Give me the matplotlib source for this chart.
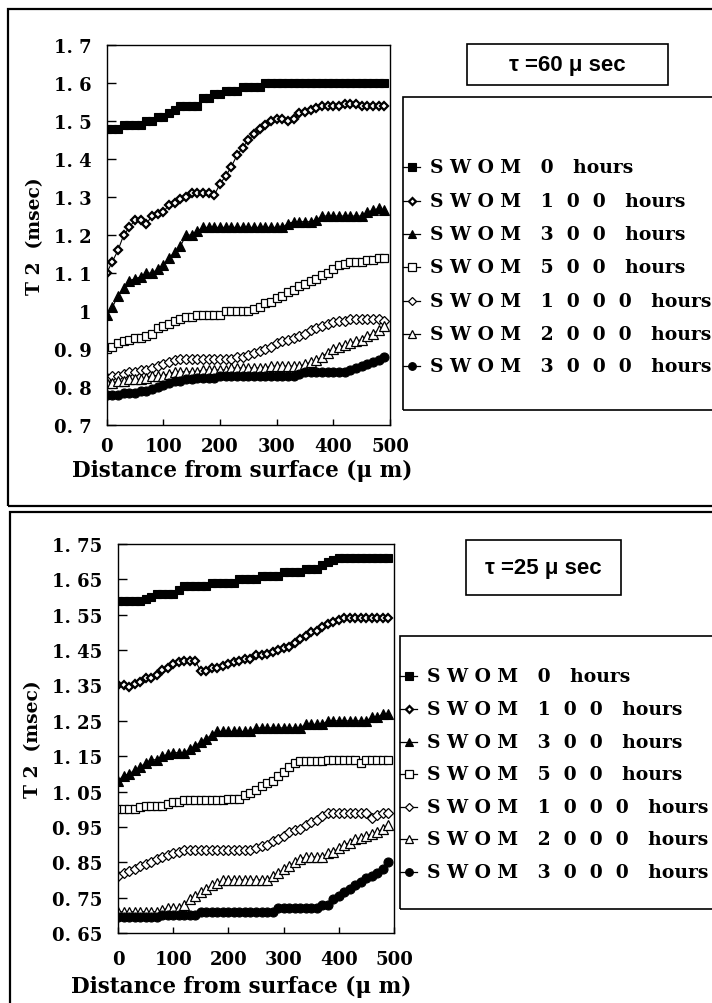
import matplotlib
matplotlib.use("Agg")
import matplotlib.pyplot as plt
from matplotlib.patches import Rectangle
from matplotlib.lines import Line2D

W, H = 712, 1004
SERIF = "DejaVu Serif"
plt.rcParams.update({"font.family": SERIF, "font.weight": "bold",
                     "axes.linewidth": 1.0})

DIST = list(range(0, 500, 10))
LABELS = ["S W O M   0   hours", "S W O M   1  0  0   hours",
          "S W O M   3  0  0   hours", "S W O M   5  0  0   hours",
          "S W O M   1  0  0  0   hours", "S W O M   2  0  0  0   hours",
          "S W O M   3  0  0  0   hours"]

# tau = 60 us
T60_0H = [1.48, 1.48, 1.48, 1.49, 1.49, 1.49, 1.49, 1.50, 1.50, 1.51,
          1.51, 1.52, 1.53, 1.54, 1.54, 1.54, 1.54, 1.56, 1.56, 1.57,
          1.57, 1.58, 1.58, 1.58, 1.59, 1.59, 1.59, 1.59, 1.60, 1.60,
          1.60, 1.60, 1.60, 1.60, 1.60, 1.60, 1.60, 1.60, 1.60, 1.60,
          1.60, 1.60, 1.60, 1.60, 1.60, 1.60, 1.60, 1.60, 1.60, 1.60]
T60_100H = [1.10, 1.13, 1.16, 1.20, 1.22, 1.24, 1.24, 1.23, 1.25, 1.255,
            1.26, 1.28, 1.285, 1.295, 1.30, 1.31, 1.31, 1.31, 1.31, 1.305,
            1.335, 1.355, 1.38, 1.41, 1.43, 1.45, 1.465, 1.48, 1.49, 1.50,
            1.505, 1.505, 1.50, 1.505, 1.52, 1.525, 1.53, 1.535, 1.54, 1.54,
            1.54, 1.54, 1.545, 1.545, 1.545, 1.54, 1.54, 1.54, 1.54, 1.54]
T60_300H = [0.99, 1.01, 1.04, 1.06, 1.08, 1.085, 1.09, 1.10, 1.10, 1.11,
            1.12, 1.14, 1.155, 1.17, 1.20, 1.20, 1.21, 1.22, 1.22, 1.22,
            1.22, 1.22, 1.22, 1.22, 1.22, 1.22, 1.22, 1.22, 1.22, 1.22,
            1.22, 1.22, 1.23, 1.235, 1.235, 1.235, 1.235, 1.24, 1.25, 1.25,
            1.25, 1.25, 1.25, 1.25, 1.25, 1.25, 1.26, 1.265, 1.27, 1.265]
T60_500H = [0.90, 0.905, 0.915, 0.92, 0.925, 0.93, 0.93, 0.935, 0.94, 0.955,
            0.96, 0.965, 0.975, 0.98, 0.985, 0.985, 0.99, 0.99, 0.99, 0.99,
            0.99, 1.00, 1.00, 1.00, 1.00, 1.00, 1.005, 1.01, 1.02, 1.025,
            1.035, 1.04, 1.05, 1.055, 1.065, 1.07, 1.08, 1.085, 1.095, 1.10,
            1.11, 1.12, 1.125, 1.13, 1.13, 1.13, 1.135, 1.135, 1.14, 1.14]
T60_1000H = [0.825, 0.83, 0.83, 0.835, 0.84, 0.84, 0.845, 0.845, 0.85, 0.855,
             0.86, 0.865, 0.87, 0.875, 0.875, 0.875, 0.875, 0.875, 0.875, 0.875,
             0.875, 0.875, 0.875, 0.88, 0.88, 0.885, 0.89, 0.895, 0.90, 0.905,
             0.915, 0.92, 0.925, 0.93, 0.935, 0.94, 0.95, 0.955, 0.96, 0.965,
             0.97, 0.975, 0.975, 0.98, 0.98, 0.98, 0.98, 0.98, 0.98, 0.975]
T60_2000H = [0.81, 0.81, 0.815, 0.815, 0.82, 0.82, 0.82, 0.825, 0.83, 0.83,
             0.83, 0.835, 0.84, 0.84, 0.84, 0.84, 0.84, 0.845, 0.845, 0.845,
             0.845, 0.845, 0.85, 0.85, 0.85, 0.85, 0.85, 0.85, 0.85, 0.855,
             0.855, 0.855, 0.855, 0.855, 0.855, 0.86, 0.865, 0.87, 0.88, 0.89,
             0.90, 0.905, 0.91, 0.915, 0.92, 0.925, 0.935, 0.94, 0.95, 0.96]
T60_3000H = [0.78, 0.78, 0.78, 0.785, 0.785, 0.785, 0.79, 0.79, 0.795, 0.80,
             0.805, 0.81, 0.815, 0.815, 0.82, 0.82, 0.825, 0.825, 0.825, 0.825,
             0.83, 0.83, 0.83, 0.83, 0.83, 0.83, 0.83, 0.83, 0.83, 0.83,
             0.83, 0.83, 0.83, 0.83, 0.835, 0.84, 0.84, 0.84, 0.84, 0.84,
             0.84, 0.84, 0.84, 0.845, 0.85, 0.855, 0.86, 0.865, 0.87, 0.88]

# tau = 25 us
T25_0H = [1.59, 1.59, 1.59, 1.59, 1.59, 1.595, 1.60, 1.61, 1.61, 1.61,
          1.61, 1.62, 1.63, 1.63, 1.63, 1.63, 1.63, 1.64, 1.64, 1.64,
          1.64, 1.64, 1.65, 1.65, 1.65, 1.65, 1.66, 1.66, 1.66, 1.66,
          1.67, 1.67, 1.67, 1.67, 1.68, 1.68, 1.68, 1.69, 1.70, 1.705,
          1.71, 1.71, 1.71, 1.71, 1.71, 1.71, 1.71, 1.71, 1.71, 1.71]
T25_100H = [1.35, 1.35, 1.345, 1.355, 1.36, 1.37, 1.37, 1.38, 1.395, 1.40,
            1.41, 1.415, 1.42, 1.42, 1.42, 1.39, 1.39, 1.40, 1.40, 1.405,
            1.41, 1.415, 1.42, 1.425, 1.425, 1.435, 1.435, 1.44, 1.445, 1.45,
            1.455, 1.46, 1.47, 1.48, 1.49, 1.50, 1.505, 1.515, 1.525, 1.53,
            1.535, 1.54, 1.54, 1.54, 1.54, 1.54, 1.54, 1.54, 1.54, 1.54]
T25_300H = [1.08, 1.095, 1.10, 1.11, 1.12, 1.13, 1.14, 1.14, 1.15, 1.155,
            1.16, 1.16, 1.16, 1.17, 1.18, 1.19, 1.20, 1.21, 1.22, 1.22,
            1.22, 1.22, 1.22, 1.22, 1.22, 1.23, 1.23, 1.23, 1.23, 1.23,
            1.23, 1.23, 1.23, 1.23, 1.24, 1.24, 1.24, 1.24, 1.25, 1.25,
            1.25, 1.25, 1.25, 1.25, 1.25, 1.25, 1.26, 1.26, 1.27, 1.27]
T25_500H = [1.00, 1.00, 1.00, 1.00, 1.005, 1.01, 1.01, 1.01, 1.01, 1.015,
            1.02, 1.02, 1.025, 1.025, 1.025, 1.025, 1.025, 1.025, 1.025, 1.025,
            1.03, 1.03, 1.03, 1.04, 1.045, 1.055, 1.065, 1.075, 1.08, 1.095,
            1.105, 1.12, 1.13, 1.135, 1.135, 1.135, 1.135, 1.135, 1.14, 1.14,
            1.14, 1.14, 1.14, 1.14, 1.13, 1.14, 1.14, 1.14, 1.14, 1.14]
T25_1000H = [0.81, 0.82, 0.825, 0.83, 0.84, 0.845, 0.85, 0.86, 0.865, 0.87,
             0.875, 0.88, 0.885, 0.885, 0.885, 0.885, 0.885, 0.885, 0.885, 0.885,
             0.885, 0.885, 0.885, 0.885, 0.885, 0.89, 0.895, 0.90, 0.91, 0.915,
             0.925, 0.935, 0.94, 0.945, 0.955, 0.965, 0.97, 0.98, 0.99, 0.99,
             0.99, 0.99, 0.99, 0.99, 0.99, 0.99, 0.975, 0.985, 0.99, 0.99]
T25_2000H = [0.71, 0.71, 0.71, 0.71, 0.71, 0.71, 0.71, 0.71, 0.715, 0.72,
             0.72, 0.72, 0.73, 0.745, 0.755, 0.765, 0.775, 0.785, 0.79, 0.80,
             0.80, 0.80, 0.80, 0.80, 0.80, 0.80, 0.80, 0.80, 0.81, 0.82,
             0.83, 0.84, 0.85, 0.86, 0.865, 0.865, 0.865, 0.865, 0.875, 0.88,
             0.89, 0.90, 0.905, 0.915, 0.92, 0.925, 0.93, 0.935, 0.945, 0.955]
T25_3000H = [0.695, 0.695, 0.695, 0.695, 0.695, 0.695, 0.695, 0.695, 0.70, 0.70,
             0.70, 0.70, 0.70, 0.70, 0.70, 0.71, 0.71, 0.71, 0.71, 0.71,
             0.71, 0.71, 0.71, 0.71, 0.71, 0.71, 0.71, 0.71, 0.71, 0.72,
             0.72, 0.72, 0.72, 0.72, 0.72, 0.72, 0.72, 0.73, 0.73, 0.745,
             0.755, 0.765, 0.775, 0.785, 0.795, 0.805, 0.81, 0.82, 0.83, 0.85]

# marker, size, face colour, edge width for each ageing time
STYLES = [("s", 6.0, "black", 0.8), ("D", 4.2, "white", 1.6),
          ("^", 6.5, "black", 0.8), ("s", 6.0, "white", 0.9),
          ("D", 5.2, "white", 0.9), ("^", 6.5, "white", 0.9),
          ("o", 6.5, "black", 0.8)]

fig = plt.figure(figsize=(W / 100, H / 100), dpi=100)


def px_rect(x0, y0, x1, y1, **kw):
    r = Rectangle((x0 / W, 1 - y1 / H), (x1 - x0) / W, (y1 - y0) / H,
                  transform=fig.transFigure, fill=False, edgecolor="black", **kw)
    fig.add_artist(r)


def panel(series, box, ylim, yticks, fmt, xlabel_y, ylabel_x, tau, tau_box,
          leg_box, leg_rows, tick_pad):
    x0, y0, x1, y1 = box
    ax = fig.add_axes([x0 / W, 1 - y1 / H, (x1 - x0) / W, (y1 - y0) / H])
    for vals, (m, ms, fc, mew) in zip(series, STYLES):
        ax.plot(DIST, vals, color="black", lw=0.8, marker=m, ms=ms,
                mfc=fc, mec="black", mew=mew)
    ax.set_xlim(0, 500)
    ax.set_ylim(*ylim)
    ax.set_xticks([0, 100, 200, 300, 400, 500])
    ax.set_yticks(yticks)
    ax.set_yticklabels([fmt(v) for v in yticks])
    ax.tick_params(axis="y", direction="in", length=6.5, width=1,
                   labelsize=13, pad=11, right=False)
    ax.tick_params(axis="x", direction="in", length=4.3, width=1,
                   labelsize=13, pad=tick_pad, top=False)
    for lab in ax.get_xticklabels() + ax.get_yticklabels():
        lab.set_fontweight("bold")
    ax.set_xlabel("Distance from surface (μ m)", fontsize=15.5, fontweight="bold")
    ax.xaxis.set_label_coords(0.478 if x0 < 110 else 0.447, xlabel_y)
    ax.set_ylabel("T 2  (msec)", fontsize=13.5, fontweight="bold")
    ax.yaxis.set_label_coords(ylabel_x, 0.5)

    # tau box
    bx0, by0, bx1, by1 = tau_box
    px_rect(bx0, by0, bx1, by1, lw=1.2)
    fig.text((bx0 + bx1) / 2 / W, 1 - (by0 + by1) / 2 / H, tau,
             family="Liberation Sans", fontsize=16, fontweight="bold",
             ha="center", va="center")

    # legend box and entries
    lx0, ly0, lx1, ly1 = leg_box
    px_rect(lx0, ly0, lx1, ly1, lw=1.2)
    for ry, lab, (m, ms, fc, mew) in zip(leg_rows, LABELS, STYLES):
        fig.add_artist(Line2D([lx0 / W, (lx0 + 17) / W], [1 - ry / H] * 2,
                              transform=fig.transFigure, color="black", lw=0.9))
        fig.add_artist(Line2D([(lx0 + 9) / W], [1 - ry / H],
                              transform=fig.transFigure, marker=m,
                              ms=ms * 0.85, mfc=fc, mec="black", mew=mew,
                              ls="none"))
        fig.text((lx0 + 27) / W, 1 - ry / H, lab, fontsize=13.5,
                 fontweight="bold", ha="left", va="center")
    return ax


def fmt1(v):
    s = f"{v:.1f}"
    return "1" if s == "1.0" else s.replace(".", ". ")


def fmt2(v):
    return f"{v:.2f}".replace(".", ". ")


# outer frames of the two panels
px_rect(8, 10, 716, 507, lw=1.6)
px_rect(10, 513, 716, 1008, lw=1.6)

panel([T60_0H, T60_100H, T60_300H, T60_500H, T60_1000H, T60_2000H, T60_3000H],
      (106.7, 46, 390, 426), (0.7, 1.7),
      [0.7, 0.8, 0.9, 1.0, 1.1, 1.2, 1.3, 1.4, 1.5, 1.6, 1.7], fmt1,
      -0.088, -0.22, "τ =60 μ sec", (467, 45, 668, 86),
      (403, 98, 716, 411), [168, 202, 235, 268, 302, 335, 367], 9)

panel([T25_0H, T25_100H, T25_300H, T25_500H, T25_1000H, T25_2000H, T25_3000H],
      (118, 545, 394, 934), (0.65, 1.75),
      [0.65, 0.75, 0.85, 0.95, 1.05, 1.15, 1.25, 1.35, 1.45, 1.55, 1.65, 1.75],
      fmt2, -0.108, -0.275, "τ =25 μ sec", (466, 541, 621, 596),
      (400, 637, 716, 910), [677, 710, 743, 775, 808, 840, 873], 12)

fig.savefig("out.png", dpi=100)
